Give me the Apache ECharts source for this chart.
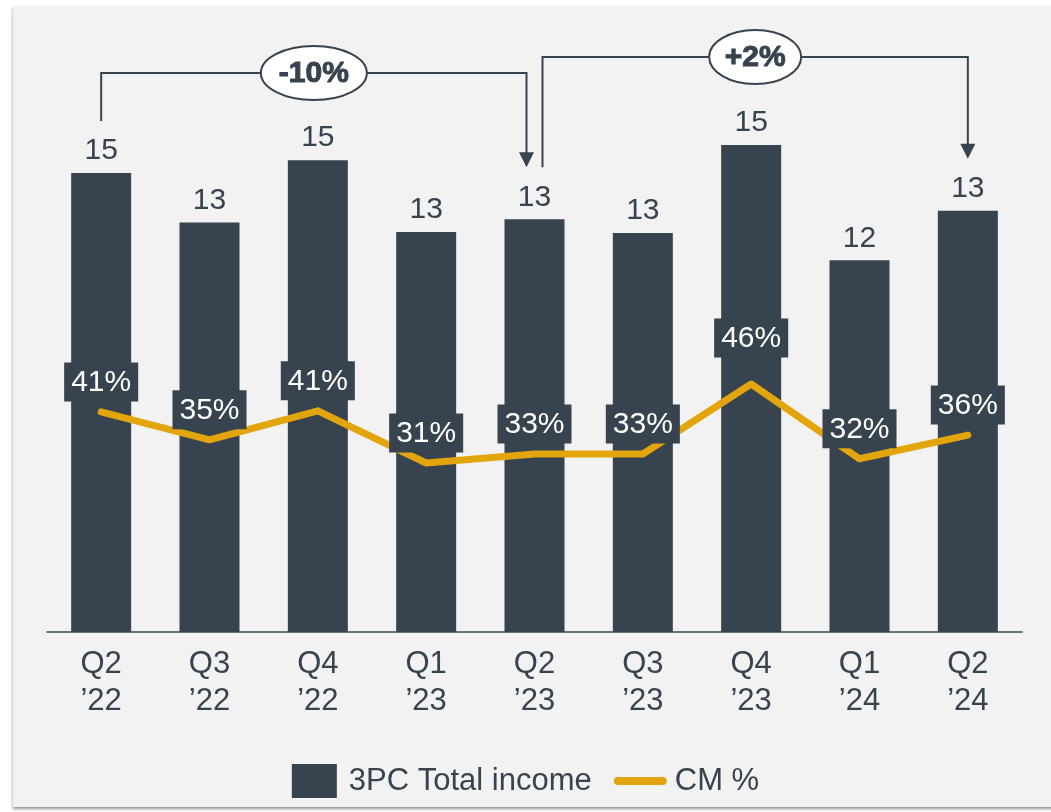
<!DOCTYPE html>
<html>
<head>
<meta charset="utf-8">
<script src="https://cdn.jsdelivr.net/npm/echarts@6/dist/echarts.min.js"></script>
<style>
html, body { margin: 0; padding: 0; background: #fff; }
#main { width: 1051px; height: 812px; }
</style>
</head>
<body>
<div id="main"></div>
<script>
// 季度
var quarters = ["Q2\n\u201922", "Q3\n\u201922", "Q4\n\u201922", "Q1\n\u201923", "Q2\n\u201923", "Q3\n\u201923", "Q4\n\u201923", "Q1\n\u201924", "Q2\n\u201924"];
// 3PC Total income (读图估算)
var totalIncome = [14.57, 13.0, 14.98, 12.7, 13.1, 12.67, 15.46, 11.8, 13.37];
// CM %
var cmPct = [40.7, 35.4, 40.9, 31.0, 32.7, 32.7, 46.0, 31.8, 36.3];
// 区间变化标注
var brackets = [
  { from: 0, to: 4, text: "-10%" },
  { from: 4, to: 8, text: "+2%" }
];

var dark = "#37434f";
var gold = "#e2a50b";
var font = "'Liberation Sans', Arial, sans-serif";

var chart = echarts.init(document.getElementById("main"));

var lineData = cmPct.map(function (v, i) {
  var item = { value: v };
  if (i === 6) {
    item.label = { distance: 26 }; // 46% 标签抬高
  }
  return item;
});

var option = {
  backgroundColor: "#fff",
  animation: false,
  textStyle: { fontFamily: font },
  grid: { left: 47, right: 29, top: 65, bottom: 180 },
  legend: {
    left: "center",
    top: 759,
    itemWidth: 45,
    itemHeight: 34,
    itemGap: 22,
    textStyle: { color: dark, fontSize: 31, fontFamily: font, padding: [0, 0, 0, 7] },
    lineStyle: { width: 8, cap: "round" },
    data: [
      { name: "3PC Total income", icon: "rect" },
      { name: "CM %", itemStyle: { opacity: 0 } }
    ]
  },
  xAxis: {
    type: "category",
    data: quarters,
    axisTick: { show: false },
    axisLine: { lineStyle: { color: "#6b737c", width: 2 } },
    axisLabel: {
      color: dark,
      fontSize: 31,
      lineHeight: 37,
      margin: 14,
      fontFamily: font
    }
  },
  yAxis: [
    { type: "value", min: 0, max: 18, show: false, splitLine: { show: false } },
    { type: "value", min: -1.09, max: 106.57, show: false, splitLine: { show: false } }
  ],
  series: [
    {
      name: "3PC Total income",
      type: "bar",
      barWidth: 60,
      itemStyle: { color: dark },
      label: {
        show: true,
        position: "top",
        distance: 7,
        color: dark,
        fontSize: 30,
        fontFamily: font,
        formatter: function (p) { return Math.round(p.value); }
      },
      data: totalIncome
    },
    {
      name: "CM %",
      type: "line",
      yAxisIndex: 1,
      symbol: "circle",
      symbolSize: 1,
      itemStyle: { color: gold },
      lineStyle: { color: gold, width: 7, cap: "round", join: "round" },
      label: {
        show: true,
        position: "top",
        distance: 10,
        color: "#fff",
        fontSize: 30,
        lineHeight: 30,
        fontFamily: font,
        backgroundColor: dark,
        padding: [5, 7, 4, 7],
        formatter: function (p) { return Math.round(p.value) + "%"; }
      },
      z: 3,
      data: lineData
    }
  ]
};

chart.setOption(option);

// 背景面板 + 箭头标注，坐标由图表换算
function buildGraphic() {
  var els = [
    {
      type: "rect",
      z: -10,
      silent: true,
      shape: { x: 13, y: 6, width: 1045, height: 801 },
      style: { fill: "#f2f2f2", shadowColor: "rgba(0,0,0,0.45)", shadowBlur: 3, shadowOffsetY: 2 }
    }
  ];
  var levels = [73, 57];
  brackets.forEach(function (b, k) {
    var lvl = levels[k];
    var x1 = chart.convertToPixel({ xAxisIndex: 0 }, b.from);
    var x2 = chart.convertToPixel({ xAxisIndex: 0 }, b.to);
    var y1 = chart.convertToPixel({ yAxisIndex: 0 }, totalIncome[b.from]) - 52;
    var y2 = chart.convertToPixel({ yAxisIndex: 0 }, totalIncome[b.to]) - 52;
    if (k === 0) { x2 -= 8; } else { x1 += 8; }
    els.push({
      type: "polyline",
      z: 50,
      shape: { points: [[x1, y1], [x1, lvl], [x2, lvl], [x2, y2 - 14]] },
      style: { stroke: dark, lineWidth: 2, fill: null }
    });
    els.push({
      type: "polygon",
      z: 50,
      shape: { points: [[x2 - 7.5, y2 - 15], [x2 + 7.5, y2 - 15], [x2, y2]] },
      style: { fill: dark }
    });
    var cx = (x1 + x2) / 2;
    var rx = b.text.length > 3 ? 53 : 46;
    els.push({
      type: "ellipse",
      z: 51,
      shape: { cx: cx, cy: lvl, rx: rx, ry: 27 },
      style: { fill: "#fff", stroke: dark, lineWidth: 2 }
    });
    els.push({
      type: "text",
      z: 52,
      x: cx,
      y: lvl + 1,
      style: {
        text: b.text,
        fill: dark,
        stroke: dark,
        lineWidth: 1,
        fontSize: 30,
        fontWeight: "bold",
        fontFamily: font,
        align: "center",
        verticalAlign: "middle"
      }
    });
  });
  chart.setOption({ graphic: { elements: els } });
}
buildGraphic();
</script>
</body>
</html>
